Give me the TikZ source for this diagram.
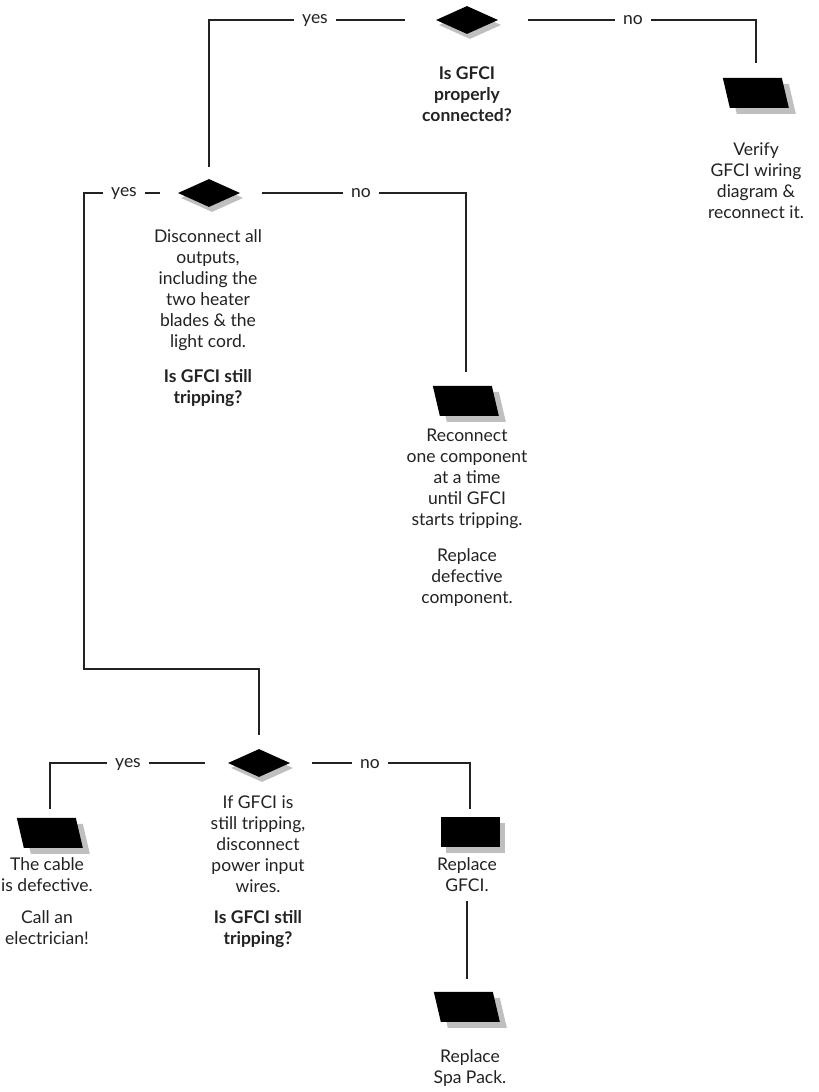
\documentclass[tikz,border=0pt]{standalone}
\usepackage{fontspec}
\setmainfont{Lato}
\usetikzlibrary{shapes.geometric,shadows,calc}
\definecolor{shd}{HTML}{BFBFBF}
\definecolor{ink}{HTML}{222222}
\begin{document}
\begin{tikzpicture}[x=1pt,y=-1pt,
  conn/.style={draw=ink, line width=1.2pt},
  lbl/.style={fill=white, inner xsep=8pt, inner ysep=2pt, font=\fontsize{17.5}{21}\selectfont, text=ink},
  dia/.style={diamond, fill=black, minimum width=62pt, minimum height=28pt, inner sep=0pt,
    drop shadow={shadow xshift=3pt, shadow yshift=-5pt, fill=shd, opacity=1}},
  txt/.style={align=center, anchor=north, inner sep=0pt, font=\fontsize{17.5}{21}\selectfont, text=ink},
  btxt/.style={align=center, anchor=north, inner sep=0pt, font=\fontsize{17.5}{21}\selectfont\bfseries, text=ink},
  pbox/.style={minimum width=66pt, minimum height=30pt, inner sep=0pt},
  rbox/.style={minimum width=59pt, minimum height=30pt, inner sep=0pt, fill=black,
    drop shadow={shadow xshift=5pt, shadow yshift=-6pt, fill=shd, opacity=1}},
]
\useasboundingbox (0,0) rectangle (819,1092);

% parallelogram drawer
\newcommand{\slantbox}[1]{%
  \fill[shd] ($(#1.north west)+(7,6)$) -- ++(59,0) -- ++(7,30) -- ++(-59,0) -- cycle;
  \fill[black] (#1.north west) -- ++(59,0) -- ++(7,30) -- ++(-59,0) -- cycle;}

% decision diamonds
\node[dia] (d1) at (467,20) {};
\node[dia] (d2) at (209,193) {};
\node[dia] (d3) at (259,763) {};

% process boxes
\node[pbox] (p1) at (756,93) {};
\node[pbox] (p2) at (466,401) {};
\node[pbox] (p3) at (50,833) {};
\node[rbox] (r1) at (470,832) {};
\node[pbox] (p4) at (467,1007) {};
\slantbox{p1}
\slantbox{p2}
\slantbox{p3}
\slantbox{p4}

% texts
\node[btxt] (t1) at (467,67) {Is GFCI\\properly\\connected?};
\node[txt] (tp1) at (756,143) {Verify\\GFCI wiring\\diagram \&\\reconnect it.};
\node[txt] (t2) at (208,229) {Disconnect all\\outputs,\\including the\\two heater\\blades \& the\\light cord.};
\node[btxt] (t2b) at (208,369) {Is GFCI still\\tripping?};
\node[txt] (tp2) at (467,429) {Reconnect\\one component\\at a time\\until GFCI\\starts tripping.};
\node[txt] (tp2b) at (467,548) {Replace\\defective\\component.};
\node[txt] (t3) at (258,796) {If GFCI is\\still tripping,\\disconnect\\power input\\wires.};
\node[btxt] (t3b) at (258,910) {Is GFCI still\\tripping?};
\node[txt] (tp3) at (47,857) {The cable\\is defective.};
\node[txt] (tp3b) at (47,910) {Call an\\electrician!};
\node[txt] (tr1) at (467,857) {Replace\\GFCI.};
\node[txt] (tp4) at (470,1049) {Replace\\Spa Pack.};

% connectors
\coordinate (c1) at (84,193);
\coordinate (c2) at (84,669);
\draw[conn, shorten <=31pt, shorten >=12pt] (d1.west) -| (d2.north);
\draw[conn, shorten <=30pt, shorten >=15pt] (d1.east) -| (p1.north);
\draw[conn, shorten <=18pt, shorten >=14pt] (d2.west) -- (c1) -- (c2) -| (d3.north);
\draw[conn, shorten <=22pt, shorten >=14pt] (d2.east) -| (p2.north);
\draw[conn, shorten <=23pt, shorten >=9pt] (d3.west) -| (p3.north);
\draw[conn, shorten <=22pt, shorten >=8pt] (d3.east) -| (r1.north);
\draw[conn, shorten <=10pt, shorten >=13pt] (tr1.south) -- (p4.north);

% branch labels
\node[lbl] (y1) at (315,20) {yes};
\node[lbl] (n1) at (633,20) {no};
\node[lbl] (y2) at (124,193) {yes};
\node[lbl] (n2) at (361,193) {no};
\node[lbl] (y3) at (128,764) {yes};
\node[lbl] (n3) at (370,764) {no};
\end{tikzpicture}
\end{document}
